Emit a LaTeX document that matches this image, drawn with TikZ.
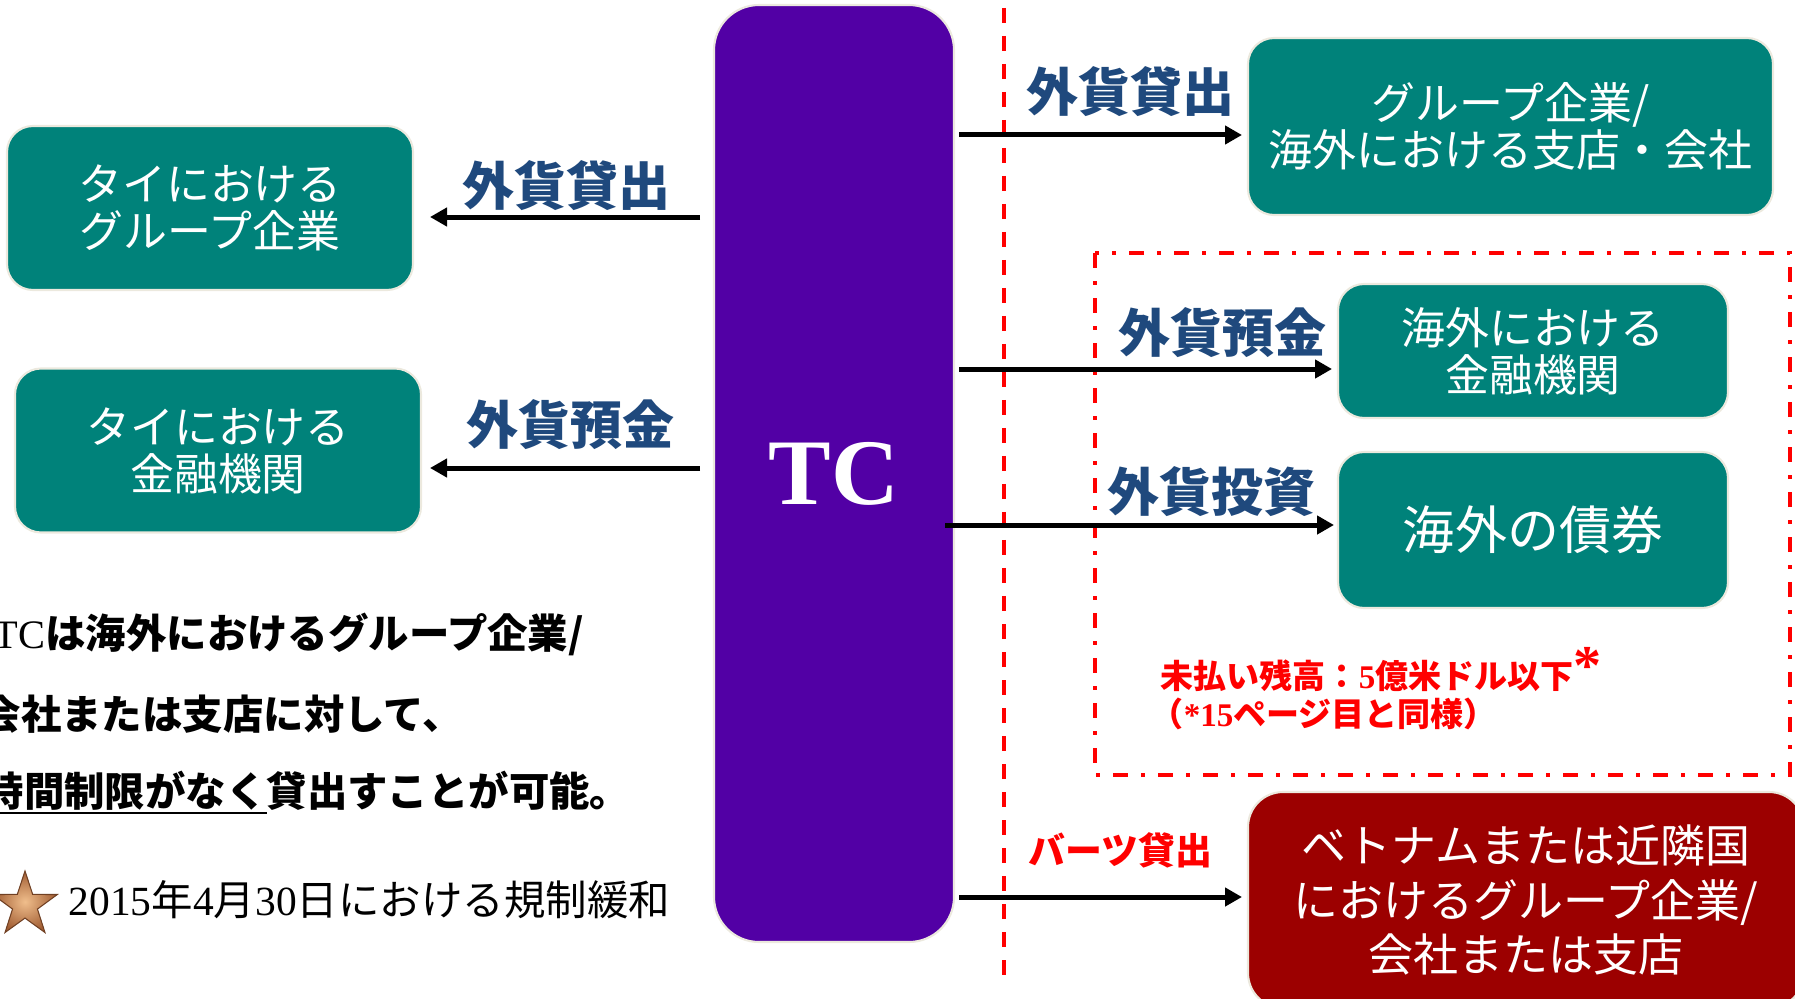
\documentclass[tikz,border=0pt]{standalone}
\usepackage{fontspec}
\setmainfont{Liberation Serif}
\newfontfamily\jpfont{Noto Sans CJK JP}
\usepackage{tikz}
\usetikzlibrary{arrows.meta,shapes.geometric}

\definecolor{tealc}{RGB}{0,130,122}
\definecolor{purplec}{RGB}{82,0,165}
\definecolor{darkredc}{RGB}{156,0,0}
\definecolor{navyc}{RGB}{31,73,125}
\definecolor{boxline}{RGB}{236,233,222}
\definecolor{bronze}{RGB}{160,92,50}
\definecolor{bronzelight}{RGB}{240,190,140}

\newcommand{\ulbar}[1]{\setbox0=\hbox{#1}\rlap{\rule[-2.4pt]{\wd0}{0.8pt}}\box0}

\begin{document}
\begin{tikzpicture}[
		x=0.1mm, y=-0.1mm,
		BoxBase/.style={draw=boxline, line width=0.6pt, text=white, align=center,
			inner sep=0pt, outer sep=0pt},
		TealBox/.style={BoxBase, fill=tealc, rounded corners=2.6mm,
			font=\jpfont\fontsize{12.5}{13.4}\selectfont},
		Flow/.style={line width=0.5mm, -{Triangle[length=1.7mm, width=1.8mm]}},
		NavyLbl/.style={text=navyc, inner sep=0pt,
			font=\jpfont\bfseries\fontsize{14.8}{16}\selectfont},
		RedLbl/.style={text=red, inner sep=0pt,
			font=\jpfont\bfseries\fontsize{10.5}{12}\selectfont},
		Note/.style={text=red, anchor=base west, inner sep=0pt,
			font=\jpfont\bfseries\fontsize{9.4}{10}\selectfont},
		LeftTxt/.style={anchor=base west, inner sep=0pt,
			font=\jpfont\bfseries\fontsize{11.5}{13}\selectfont},
		]
		\useasboundingbox (0,0) rectangle (1795,998);
		
		\draw[red, line width=0.35mm, dash pattern=on 1.5mm off 1.3mm] (1004,8) -- (1004,977);
		\draw[red, line width=0.4mm, dash pattern=on 1.5mm off 1.3mm on 0.4mm off 1.3mm]
			(1095,253) rectangle (1790,775);
		
		\node [TealBox, minimum width=40.6mm, minimum height=16.4mm] (thaiGrp) at (210,208) {タイにおける\\グループ企業};
		\node [TealBox, minimum width=40.6mm, minimum height=16.4mm] (thaiFin) at (218,450.5) {タイにおける\\金融機関};
		\node [BoxBase, fill=purplec, rounded corners=4.5mm, minimum width=24mm, minimum height=93.7mm,
			font=\rmfamily\bfseries\fontsize{26.7}{30}\selectfont] (tc) at (834,473.5) {TC};
		\node [TealBox, minimum width=52.5mm, minimum height=17.7mm] (ovGrp) at (1510.5,126.5) {グループ企業/\\海外における支店・会社};
		\node [TealBox, minimum width=39mm, minimum height=13.4mm] (ovFin) at (1533,351) {海外における\\金融機関};
		\node [TealBox, minimum width=39mm, minimum height=15.6mm,
			font=\jpfont\fontsize{14.8}{16}\selectfont] (ovBond) at (1533,530) {海外の債券};
		\node [BoxBase, fill=darkredc, rounded corners=3.5mm, minimum width=55.6mm, minimum height=21.6mm,
			font=\jpfont\fontsize{12.8}{15.6}\selectfont] (vnGrp) at (1526,900) {ベトナムまたは近隣国\\におけるグループ企業/\\会社または支店};
		
		\draw [Flow, shorten <=1.4mm, shorten >=1.7mm] (tc.west |- 0,217) -- (thaiGrp.east |- 0,217)
			node [NavyLbl, pos=.49, yshift=3.1mm] (lblGrp) {外貨貸出};
		\draw [Flow, shorten <=1.4mm, shorten >=0.9mm] (tc.west |- 0,468) -- (thaiFin.east |- 0,468)
			node [NavyLbl, pos=.49, yshift=4.3mm] (lblFin) {外貨預金};
		\draw [Flow, shorten <=0.5mm, shorten >=0.6mm] (tc.east |- 0,135) -- (ovGrp.west |- 0,135)
			node [NavyLbl, pos=.6, yshift=4.3mm] (lblOvGrp) {外貨貸出};
		\draw [Flow, shorten <=0.5mm, shorten >=0.6mm] (tc.east |- 0,369) -- (ovFin.west |- 0,369)
			node [NavyLbl, pos=.7, yshift=3.6mm] (lblOvFin) {外貨預金};
		\draw [Flow, shorten <=-0.9mm, shorten >=0.4mm] (tc.east |- 0,525) -- (ovBond.west |- 0,525)
			node [NavyLbl, pos=.67, yshift=3.3mm] (lblBond) {外貨投資};
		\draw [Flow, shorten <=0.5mm, shorten >=0.6mm] (tc.east |- 0,897) -- (vnGrp.west |- 0,897)
			node [RedLbl, pos=.565, yshift=4.7mm] (lblBaht) {バーツ貸出};
		
		\node [Note] (note1) at (1160,688) {未払い残高：{\rmfamily 5}億米ドル以下{\rmfamily\fontsize{16}{16}\selectfont\raisebox{1pt}{*}}};
		\node [Note] (note2) at (1150,726) {（{\rmfamily *15}ページ目と同様）};
		
		\node [LeftTxt] (txt1) at (-7,648) {{\rmfamily\mdseries TC}は海外におけるグループ企業/};
		\node [LeftTxt] (txt2) at (-20,729) {会社または支店に対して、};
		\node [LeftTxt] (txt3) at (-17,806) {\ulbar{時間制限がなく}貸出すことが可能。};
		
		\node [star, star points=5, star point ratio=2.6, minimum size=6.8mm, inner sep=0pt,
			inner color=bronzelight, outer color=bronze, draw=bronze!70!black, line width=0.3pt] (star) at (25,905) {};
		\node [anchor=base west, inner sep=0pt, font=\jpfont\fontsize{11.8}{13}\selectfont] (relax) at (68,915)
			{{\rmfamily 2015}年{\rmfamily 4}月{\rmfamily 30}日における規制緩和};
		
		\end{tikzpicture}
\end{document}
